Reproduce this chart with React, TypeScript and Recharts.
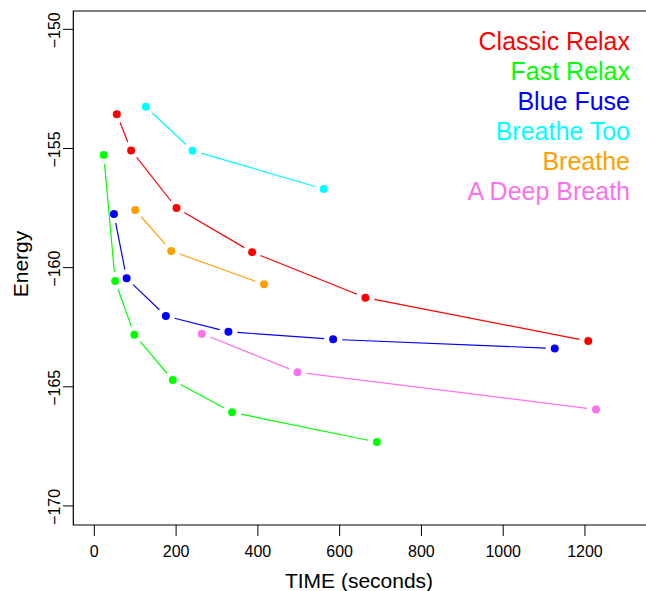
import { LineChart, Line, XAxis, YAxis, ReferenceArea } from "recharts";

const FONT = '"Liberation Sans", Arial, Helvetica, sans-serif';

const seriesNames = ["Classic Relax", "Fast Relax", "Blue Fuse", "Breathe Too", "Breathe", "A Deep Breath"];
const seriesColors = ["#ff0000", "#00ff00", "#0000ff", "#00ffff", "#ffa000", "#fa72ea"];

const classicTime = [55, 90, 201, 386, 663, 1208];
const classicEnergy = [-153.56, -155.08, -157.5, -159.35, -161.26, -163.08];

const fastTime = [23, 51, 98, 192, 337, 691];
const fastEnergy = [-155.27, -160.56, -162.82, -164.72, -166.07, -167.32];

const blueTime = [48, 79, 175, 328, 584, 1126];
const blueEnergy = [-157.75, -160.45, -162.03, -162.69, -163.01, -163.39];

const tooTime = [126, 240, 561];
const tooEnergy = [-153.25, -155.09, -156.7];

const breatheTime = [100, 188, 415];
const breatheEnergy = [-157.58, -159.3, -160.7];

const deepTime = [263, 497, 1227];
const deepEnergy = [-162.77, -164.39, -165.95];

const xTicks = [0, 200, 400, 600, 800, 1000, 1200];
const yTicks = [-170, -165, -160, -155, -150];

const X_DOMAIN: [number, number] = [-51.4, 1363.9];
const Y_DOMAIN: [number, number] = [-170.8, -149.23];

const toRows = (t: number[], e: number[]) => t.map((v, i) => ({ t: v, e: e[i] }));

const series = [
  toRows(classicTime, classicEnergy),
  toRows(fastTime, fastEnergy),
  toRows(blueTime, blueEnergy),
  toRows(tooTime, tooEnergy),
  toRows(breatheTime, breatheEnergy),
  toRows(deepTime, deepEnergy),
];

const GAP = 9;

// R type="b": point, then a line to the next point with a gap at both ends
function GapDot(props: any) {
  const { cx, cy, index, points, color } = props;
  const next = points && points[index + 1];
  let seg = null;
  if (next && cx != null && cy != null) {
    const dx = next.x - cx;
    const dy = next.y - cy;
    const len = Math.hypot(dx, dy);
    if (len > 2 * GAP) {
      const ux = dx / len;
      const uy = dy / len;
      seg = (
        <line
          x1={cx + ux * GAP}
          y1={cy + uy * GAP}
          x2={next.x - ux * GAP}
          y2={next.y - uy * GAP}
          stroke={color}
          strokeWidth={1.2}
        />
      );
    }
  }
  return (
    <g>
      {seg}
      <circle cx={cx} cy={cy} r={4} fill={color} />
    </g>
  );
}

function YTick(props: any) {
  const { y, payload } = props;
  const label = String(payload.value).replace("-", "\u2212");
  return (
    <g>
      <line x1={63} y1={y} x2={73.3} y2={y} stroke="#000" strokeWidth={1} />
      <text
        transform={`translate(54, ${y + 1}) rotate(-90)`}
        textAnchor="middle"
        dy="0.35em"
        fontSize={16}
        fontFamily={FONT}
        fill="#000"
      >
        {label}
      </text>
    </g>
  );
}

export default function App() {
  return (
    <div style={{ position: "absolute", left: 0, top: 0, width: 646, height: 591, overflow: "hidden", background: "#fff" }}>
      <LineChart width={652} height={591} margin={{ top: 11, right: 0, bottom: 26, left: 0 }}>
        <ReferenceArea
          x1={X_DOMAIN[0]}
          x2={X_DOMAIN[1]}
          y1={Y_DOMAIN[0]}
          y2={Y_DOMAIN[1]}
          fill="none"
          stroke="#000"
          strokeWidth={1.2}
          ifOverflow="visible"
        />
        <XAxis
          type="number"
          dataKey="t"
          domain={X_DOMAIN}
          allowDataOverflow
          ticks={xTicks}
          interval={0}
          height={40}
          axisLine={false}
          tickSize={11}
          tickMargin={10}
          tickLine={{ stroke: "#000" }}
          tick={{ fontSize: 16, fontFamily: FONT, fill: "#000" }}
          label={() => (
            <text x={359} y={581} dy="0.35em" textAnchor="middle" fontSize={21} fontFamily={FONT} fill="#000">
              TIME (seconds)
            </text>
          )}
        />
        <YAxis
          type="number"
          dataKey="e"
          domain={Y_DOMAIN}
          allowDataOverflow
          ticks={yTicks}
          interval={0}
          width={73.3}
          axisLine={false}
          tickLine={false}
          tick={<YTick />}
          label={() => (
            <text
              transform="translate(21, 264) rotate(-90)"
              dy="0.35em"
              textAnchor="middle"
              fontSize={21}
              fontFamily={FONT}
              fill="#000"
            >
              Energy
            </text>
          )}
        />
        {series.map((rows, i) => (
          <Line
            key={seriesNames[i]}
            name={seriesNames[i]}
            data={rows}
            dataKey="e"
            stroke="none"
            isAnimationActive={false}
            dot={(p: any) => <GapDot key={p.key ?? `${i}-${p.index}`} {...p} color={seriesColors[i]} />}
            activeDot={false}
          />
        ))}
      </LineChart>
      {/* legend text inside the plot, right aligned like R's legend(bty="n") */}
      <div
        style={{
          position: "absolute",
          top: 26,
          right: 16,
          textAlign: "right",
          fontFamily: FONT,
          fontSize: 25,
          lineHeight: "30px",
          whiteSpace: "nowrap",
        }}
      >
        {seriesNames.map((n, i) => (
          <div key={n} style={{ color: seriesColors[i] }}>
            {n}
          </div>
        ))}
      </div>
    </div>
  );
}
